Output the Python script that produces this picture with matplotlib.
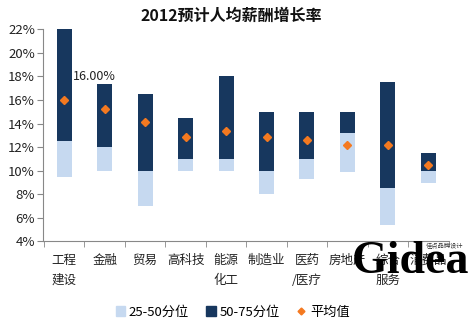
import numpy as np
import matplotlib
matplotlib.use("Agg")
import matplotlib.pyplot as plt
from matplotlib.lines import Line2D
from matplotlib.patches import Patch

plt.rcParams['font.family'] = ['Noto Sans CJK SC', 'DejaVu Sans']

categories = ["工程\n建设", "金融", "贸易", "高科技", "能源\n化工", "制造业",
              "医药\n/医疗", "房地产", "综合\n服务", "消费品"]
p25 = [9.5, 10.0, 7.0, 10.0, 10.0, 8.0, 9.3, 9.9, 5.4, 9.0]
p50 = [12.5, 12.0, 10.0, 11.0, 11.0, 10.0, 11.0, 13.2, 8.5, 10.0]
p75 = [22.0, 17.4, 16.5, 14.5, 18.0, 15.0, 15.0, 15.0, 17.5, 11.5]
mean = [16.0, 15.25, 14.15, 12.85, 13.4, 12.85, 12.6, 12.2, 12.15, 10.45]

light = "#C6D9F0"
dark = "#17375E"
orange = "#F47920"

p25, p50, p75, mean = map(np.array, (p25, p50, p75, mean))
x = np.arange(len(categories))

fig = plt.figure(figsize=(4.75, 3.33), dpi=100)
ax = fig.add_axes([0.091, 0.275, 0.855, 0.637])

w = 0.37
ax.bar(x, p50 - p25, bottom=p25, width=w, color=light, zorder=2)
ax.bar(x, p75 - p50, bottom=p50, width=w, color=dark, zorder=2)
ax.plot(x, mean, "D", color=orange, ms=4, mec=orange, ls="none", zorder=3)

ax.annotate("%.2f%%" % mean[0], (x[0], mean[0]), xytext=(22, 17),
            textcoords="offset points", ha="center", va="center",
            fontsize=9, color="#222222")

ax.set_xlim(-0.52, len(categories) - 0.48)
ax.set_ylim(4, 22)
ax.set_yticks(np.arange(4, 23, 2))
ax.set_yticklabels(["%d%%" % v for v in range(4, 23, 2)], fontsize=9.5,
                   color="#222222")
ax.set_xticks(x)
ax.set_xticklabels(categories, fontsize=9, color="#222222", linespacing=1.7,
                   va="top")
ax.set_xticks(np.arange(-0.5, len(categories), 1), minor=True)
ax.tick_params(axis="x", which="major", length=0, pad=9)
ax.tick_params(axis="x", which="minor", length=4, color="#888888")
ax.tick_params(axis="y", length=4, color="#888888", pad=2)

for s in ("top", "right"):
    ax.spines[s].set_visible(False)
for s in ("left", "bottom"):
    ax.spines[s].set_color("#888888")

fig.text(0.487, 0.953, "2012预计人均薪酬增长率", ha="center", va="center",
         fontsize=11.5, fontweight="bold", color="#111111")

handles = [Patch(color=light, label="25-50分位"),
           Patch(color=dark, label="50-75分位"),
           Line2D([], [], marker="D", color=orange, ls="none", ms=3.5,
                  label="平均值")]
fig.legend(handles=handles, loc="center", bbox_to_anchor=(0.49, 0.063),
           ncol=3, frameon=False, fontsize=9.5, handlelength=0.7,
           handleheight=0.7, handletextpad=0.3, columnspacing=1.3)

# logo stamp in the lower right corner
fig.text(0.865, 0.213, "Gidea", ha="center", va="center", fontsize=33,
         fontweight="bold", family="Liberation Serif", color="black", zorder=10)
fig.text(0.935, 0.265, "佳点品牌设计", ha="center", va="center", fontsize=4.5,
         color="#333333", zorder=10)

fig.savefig("out.png", dpi=100)
